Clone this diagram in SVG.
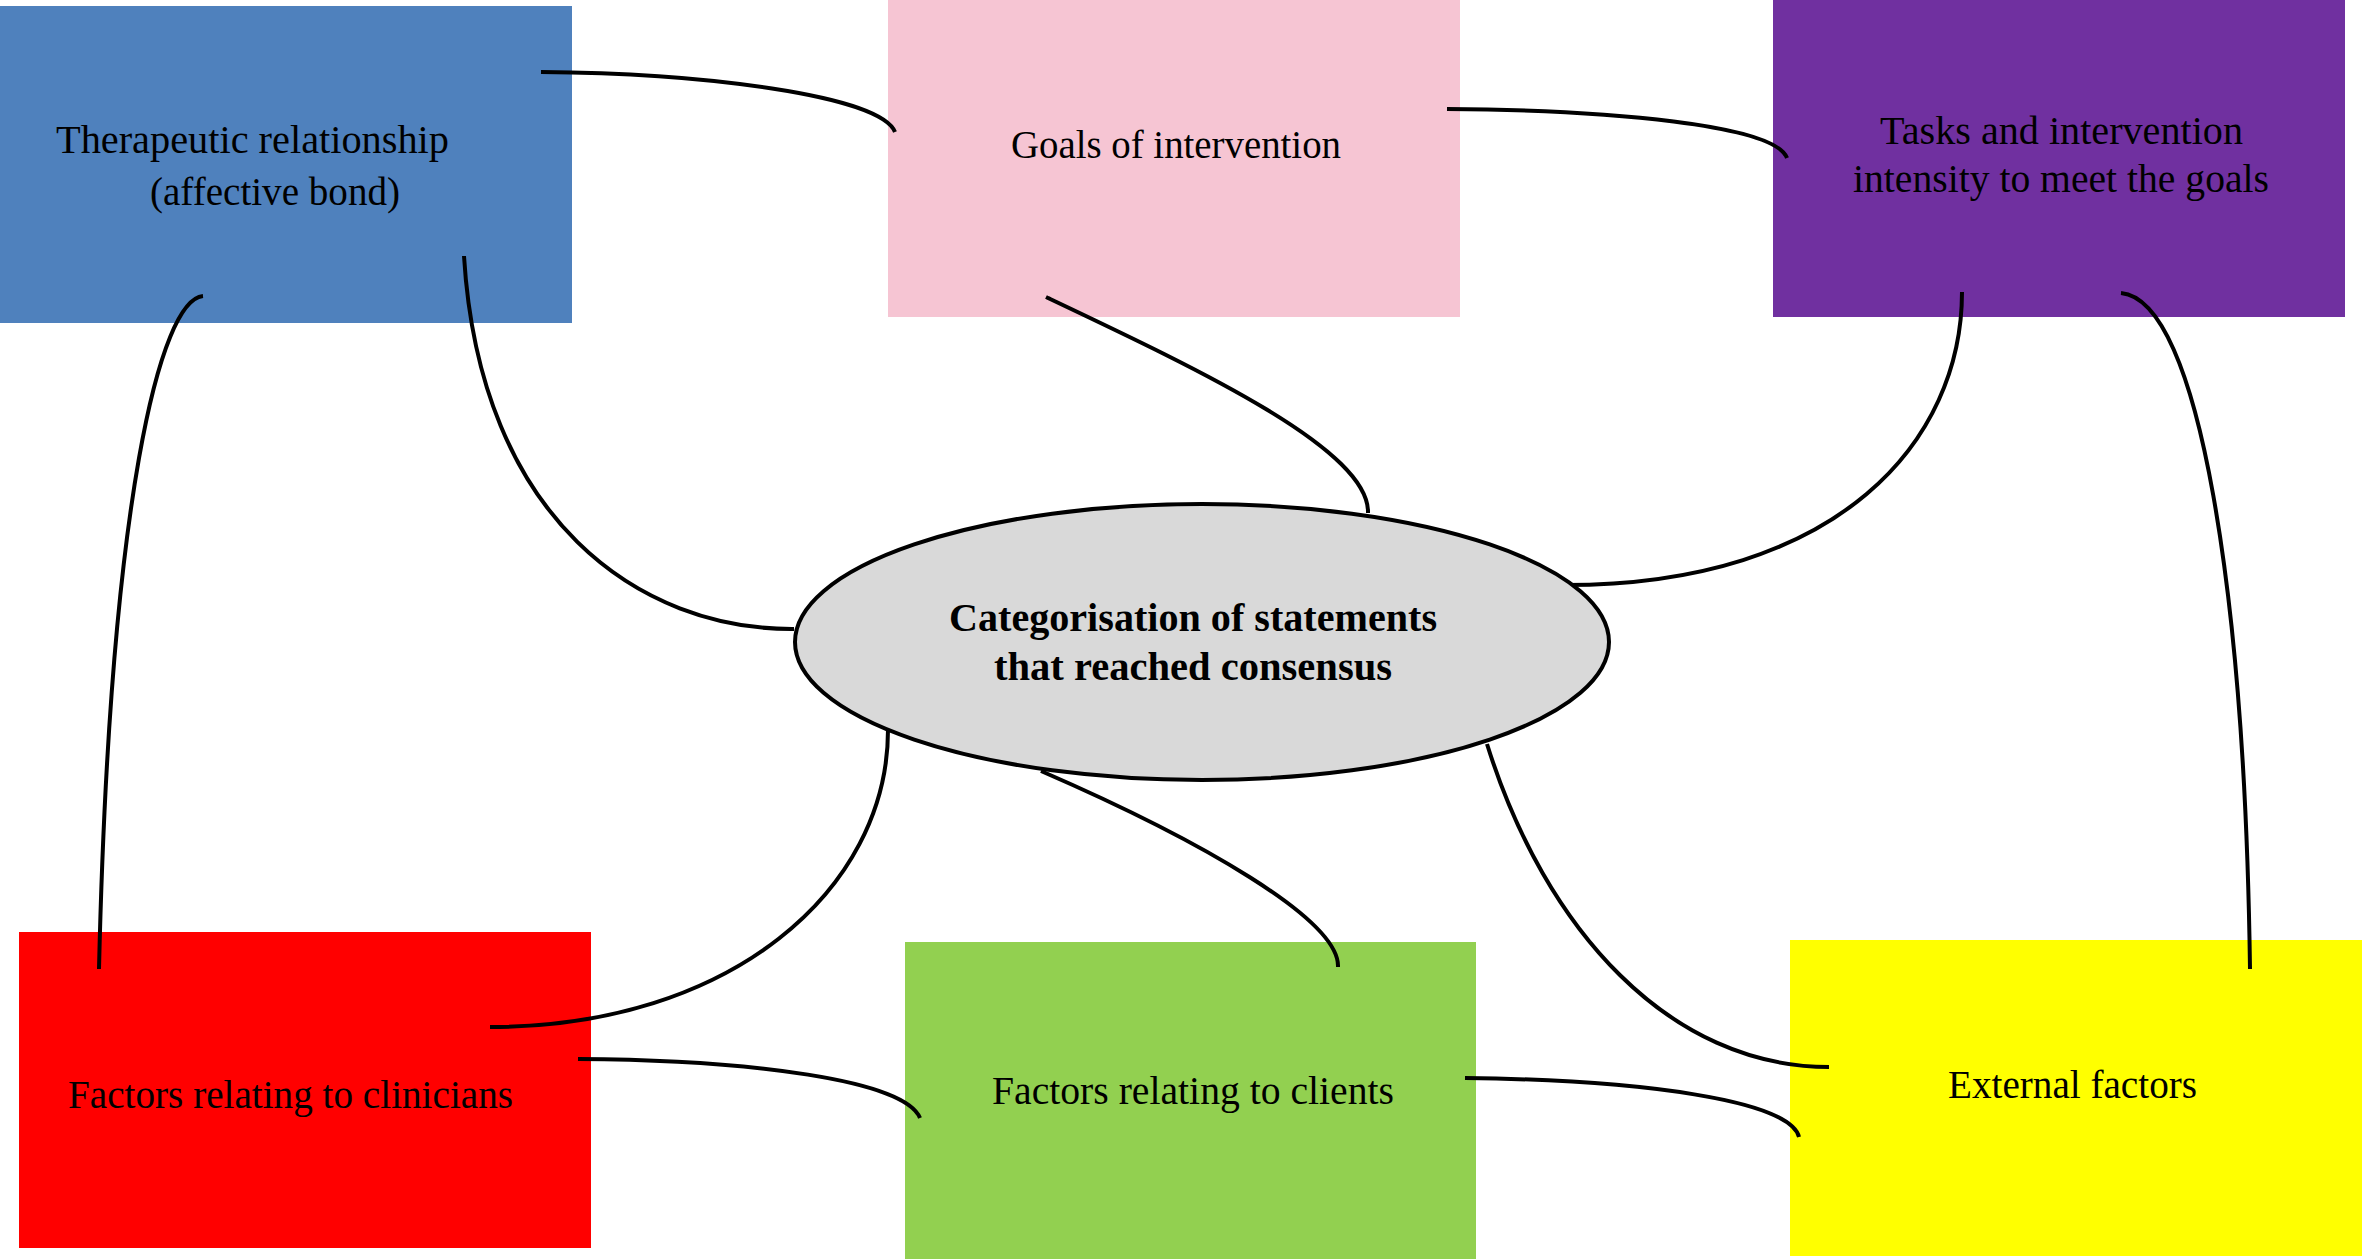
<svg xmlns="http://www.w3.org/2000/svg" width="2362" height="1259" viewBox="0 0 2362 1259">
<style>
.box{stroke:none}
.lbl{font-family:"Liberation Serif","Times New Roman",serif;font-size:39px;fill:#000}
.bold{font-weight:bold}
.conn{fill:none;stroke:#000;stroke-width:4;stroke-linecap:butt}
</style>
<rect x="0" y="0" width="2362" height="1259" fill="#ffffff"/>
<g id="node-therapeutic">
<rect class="box" x="0" y="6" width="572" height="317" fill="#4f81bd"/>
<text class="lbl" x="56" y="153" textLength="393" lengthAdjust="spacingAndGlyphs">Therapeutic relationship</text>
<text class="lbl" x="150" y="205" textLength="250" lengthAdjust="spacingAndGlyphs">(affective bond)</text>
</g>
<g id="node-goals">
<rect class="box" x="888" y="0" width="572" height="317" fill="#f6c5d3"/>
<text class="lbl" x="1011" y="158" textLength="330" lengthAdjust="spacingAndGlyphs">Goals of intervention</text>
</g>
<g id="node-tasks">
<rect class="box" x="1773" y="0" width="572" height="317" fill="#7030a0"/>
<text class="lbl" x="1880" y="144" textLength="363" lengthAdjust="spacingAndGlyphs">Tasks and intervention</text>
<text class="lbl" x="1853" y="192" textLength="416" lengthAdjust="spacingAndGlyphs">intensity to meet the goals</text>
</g>
<g id="node-clinicians">
<rect class="box" x="19" y="932" width="572" height="316" fill="#ff0000"/>
<text class="lbl" x="68" y="1108" textLength="445" lengthAdjust="spacingAndGlyphs">Factors relating to clinicians</text>
</g>
<g id="node-clients">
<rect class="box" x="905" y="942" width="571" height="317" fill="#92d050"/>
<text class="lbl" x="992" y="1104" textLength="402" lengthAdjust="spacingAndGlyphs">Factors relating to clients</text>
</g>
<g id="node-external">
<rect class="box" x="1790" y="940" width="572" height="316" fill="#ffff00"/>
<text class="lbl" x="1948" y="1098" textLength="249" lengthAdjust="spacingAndGlyphs">External factors</text>
</g>
<g id="connectors">
<path class="conn" d="M541,72 C700,73 880,95 895,132"/>
<path class="conn" d="M1447,109 C1610,110 1775,125 1787,158"/>
<path class="conn" d="M464,256 C480,520 640,630 794,629"/>
<path class="conn" d="M1046,297 C1200,370 1370,450 1368,513"/>
<path class="conn" d="M1962,292 C1962,440 1840,585 1565,585"/>
<path class="conn" d="M2121,293 C2200,300 2245,600 2250,969"/>
<path class="conn" d="M203,296 C160,300 110,500 99,969"/>
<path class="conn" d="M888,730 C888,890 730,1027 490,1027"/>
<path class="conn" d="M1041,771 C1200,840 1340,920 1338,967"/>
<path class="conn" d="M1487,744 C1545,930 1670,1067 1829,1067"/>
<path class="conn" d="M578,1059 C750,1060 905,1080 920,1118"/>
<path class="conn" d="M1465,1078 C1640,1080 1790,1100 1799,1137"/>
</g>
<g id="node-center">
<ellipse cx="1202" cy="642" rx="407" ry="138" fill="#d9d9d9" stroke="#000" stroke-width="4"/>
<text class="lbl bold" x="949" y="631" textLength="488" lengthAdjust="spacingAndGlyphs">Categorisation of statements</text>
<text class="lbl bold" x="994" y="680" textLength="398" lengthAdjust="spacingAndGlyphs">that reached consensus</text>
</g>
</svg>
